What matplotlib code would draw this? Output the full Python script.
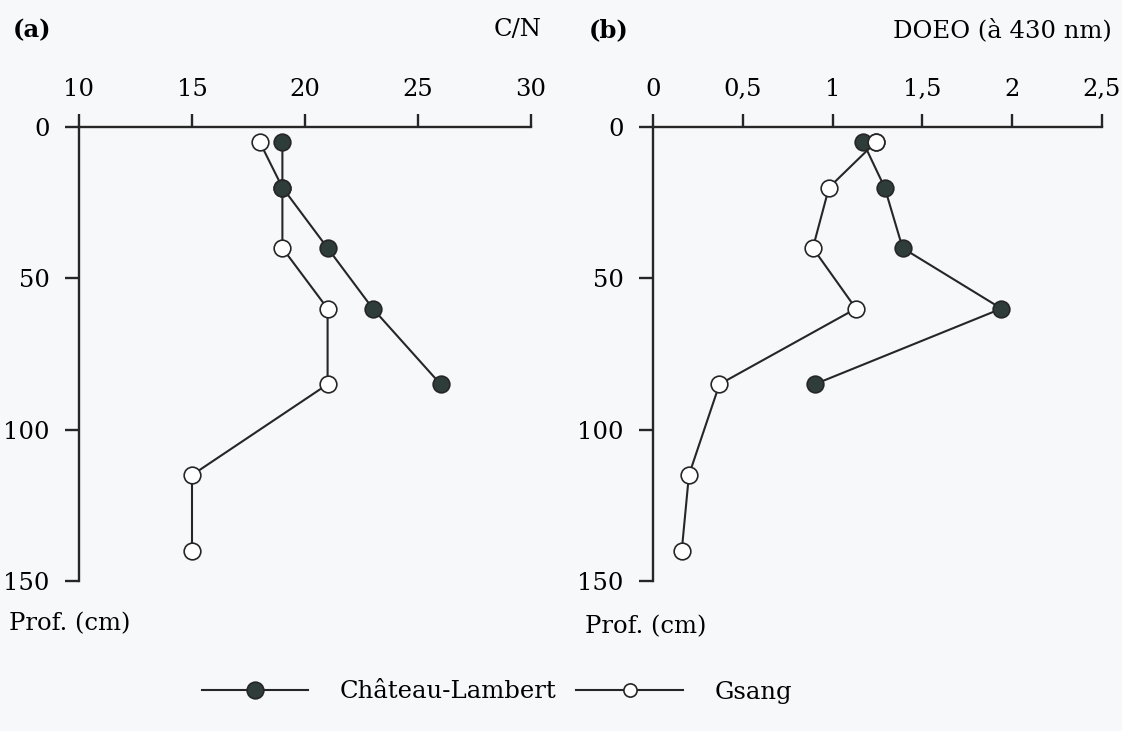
import matplotlib.pyplot as plt
from matplotlib.lines import Line2D

# depths (cm) of the sampled horizons
depth = [5, 20, 40, 60, 85, 115, 140]

# (a) C/N ratio
cn_chateau = [19, 19, 21, 23, 26]
cn_gsang = [18, 19, 19, 21, 21, 15, 15]

# (b) DOEO at 430 nm
doeo_chateau = [1.17, 1.29, 1.39, 1.94, 0.90]
doeo_gsang = [1.24, 0.98, 0.89, 1.13, 0.37, 0.20, 0.16]

cn_ticks = [10, 15, 20, 25, 30]
doeo_ticks = [0, 0.5, 1, 1.5, 2, 2.5]
doeo_ticklabels = ['0', '0,5', '1', '1,5', '2', '2,5']
depth_ticks = [0, 50, 100, 150]

ink = '#262626'
fill = '#2e3d39'
bg = '#f6f8fa'

plt.rcParams['font.family'] = 'DejaVu Serif'
plt.rcParams['font.size'] = 17.5

W, H = 1122, 731
fig = plt.figure(figsize=(W / 100, H / 100), dpi=100, facecolor=bg)


def make_axes(x0, x1):
    ax = fig.add_axes([x0 / W, 1 - 581 / H, (x1 - x0) / W, (581 - 127) / H])
    ax.set_facecolor(bg)
    ax.patch.set_alpha(0)
    for s in ['right', 'bottom']:
        ax.spines[s].set_visible(False)
    for s in ['left', 'top']:
        ax.spines[s].set_linewidth(1.7)
        ax.spines[s].set_color(ink)
    ax.xaxis.tick_top()
    ax.tick_params(axis='x', direction='out', length=9.5, width=1.7, pad=9, color=ink)
    ax.tick_params(axis='y', direction='out', length=10, width=1.7, pad=11, color=ink)
    ax.set_ylim(150, 0)
    ax.set_yticks(depth_ticks)
    return ax


def draw(ax, xs_gs, xs_cl):
    ax.plot(xs_gs, depth[:len(xs_gs)], color=ink, lw=1.5, marker='o', ms=12,
            mfc='white', mec=ink, mew=1.2, clip_on=False, zorder=3)
    ax.plot(xs_cl, depth[:len(xs_cl)], color=ink, lw=1.5, marker='o', ms=12,
            mfc=fill, mec=ink, mew=1.2, clip_on=False, zorder=4)


ax1 = make_axes(79, 531)
ax1.set_xlim(10, 30)
ax1.set_xticks(cn_ticks)
draw(ax1, cn_gsang, cn_chateau)

ax2 = make_axes(653, 1102)
ax2.set_xlim(0, 2.5)
ax2.set_xticks(doeo_ticks)
ax2.set_xticklabels(doeo_ticklabels)
draw(ax2, doeo_gsang, doeo_chateau)
# open marker sits over the filled one at the surface in (b)
ax2.plot(doeo_gsang[:1], depth[:1], ls='none', marker='o', ms=12,
         mfc='white', mec=ink, mew=1.2, clip_on=False, zorder=5)

fig.text(13 / W, 1 - 30 / H, '(a)', fontweight='bold', va='center', ha='left')
fig.text(542 / W, 1 - 30 / H, 'C/N', va='center', ha='right')
fig.text(589 / W, 1 - 30 / H, '(b)', fontweight='bold', va='center', ha='left')
fig.text(1112 / W, 1 - 30 / H, 'DOEO (à 430 nm)', va='center', ha='right')
fig.text(9 / W, 1 - 624 / H, 'Prof. (cm)', va='center', ha='left')
fig.text(585 / W, 1 - 627 / H, 'Prof. (cm)', va='center', ha='left')

handles = [
    Line2D([], [], color=ink, lw=1.5, marker='o', ms=12, mfc=fill, mec=ink, mew=1.2),
    Line2D([], [], color=ink, lw=1.5, marker='o', ms=9.5, mfc='white', mec=ink, mew=1.2),
]
fig.legend(handles, ['Château-Lambert', 'Gsang'], loc='center',
           bbox_to_anchor=(497 / W, 1 - 692 / H), ncol=2, frameon=False,
           handlelength=4.4, handletextpad=1.3, columnspacing=0.8)

fig.savefig('out.png', dpi=100, facecolor=bg)
